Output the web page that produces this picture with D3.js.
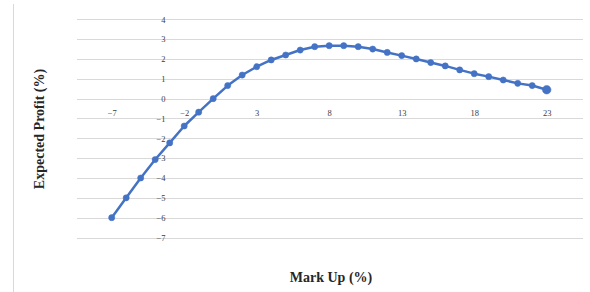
<!DOCTYPE html>
<html>
<head>
<meta charset="utf-8">
<script src="https://cdn.jsdelivr.net/npm/d3@7"></script>
<style>
  html, body { margin: 0; padding: 0; background: #fff; }
  svg { display: block; }
</style>
</head>
<body>
<svg id="chart" width="590" height="292"></svg>
<script>
// ---- data ----
const markUp = [-7,-6,-5,-4,-3,-2,-1,0,1,2,3,4,5,6,7,8,9,10,11,12,13,14,15,16,17,18,19,20,21,22,23];
const expectedProfit = [-6,-5,-4,-3.07,-2.23,-1.38,-0.68,0,0.66,1.19,1.61,1.95,2.2,2.45,2.62,2.67,2.67,2.62,2.5,2.33,2.17,2.0,1.82,1.65,1.45,1.26,1.11,0.94,0.77,0.66,0.45];
const xTickValues = [-7,-2,3,8,13,18,23];
const yTickValues = [4,3,2,1,0,-1,-2,-3,-4,-5,-6,-7];
const xTitle = "Mark Up (%)";
const yTitle = "Expected Profit (%)";

const svg = d3.select("#chart");
const x = d3.scaleLinear().domain([-7, 23]).range([111.7, 546.7]);
const y = d3.scaleLinear().domain([-7, 4]).range([237.5, 19.3]);
const gridLeft = 77, gridRight = 583;
const font = "'Liberation Serif', 'Times New Roman', serif";

// chart border (left edge visible)
svg.append("line").attr("x1", 13.5).attr("x2", 13.5).attr("y1", 4).attr("y2", 292)
  .attr("stroke", "#d9d9d9").attr("stroke-width", 1);

// gridlines
svg.append("g").selectAll("line").data(yTickValues).join("line")
  .attr("x1", gridLeft).attr("x2", gridRight)
  .attr("y1", d => Math.round(y(d)) + 0.5).attr("y2", d => Math.round(y(d)) + 0.5)
  .attr("stroke", "#d9d9d9").attr("stroke-width", 1);

// y axis labels (axis crosses between categories)
const yAxis = d3.axisLeft(y).tickValues(yTickValues).tickSize(0).tickPadding(0)
  .tickFormat(d3.format("d"));
const gy = svg.append("g").attr("transform", `translate(${x(-3.5) + 3},0)`).call(yAxis);
gy.select(".domain").remove();
gy.selectAll("text").attr("font-family", font).attr("font-size", 8.5).attr("fill", "#404040");

// x axis labels
const xAxis = d3.axisBottom(x).tickValues(xTickValues).tickSize(0).tickPadding(11)
  .tickFormat(d3.format("d"));
const gx = svg.append("g").attr("transform", `translate(0,${y(0)})`).call(xAxis);
gx.select(".domain").remove();
gx.selectAll("text").attr("font-family", font).attr("font-size", 8.5).attr("fill", "#404040");

// line
const pts = markUp.map((m, i) => [m, expectedProfit[i]]);
svg.append("path").datum(pts)
  .attr("fill", "none").attr("stroke", "#4472C4").attr("stroke-width", 2.5)
  .attr("stroke-linejoin", "round")
  .attr("d", d3.line().x(d => x(d[0])).y(d => y(d[1])));

// markers
svg.append("g").selectAll("circle").data(pts).join("circle")
  .attr("cx", d => x(d[0])).attr("cy", d => y(d[1]))
  .attr("r", (d, i) => i === pts.length - 1 ? 4.3 : 3.1)
  .attr("fill", "#4472C4").attr("stroke", "#4472C4").attr("stroke-width", 0.5);

// titles
svg.append("text").attr("x", 331).attr("y", 282).attr("text-anchor", "middle")
  .attr("font-family", font).attr("font-size", 14).attr("font-weight", "bold")
  .attr("fill", "#262626").text(xTitle);
svg.append("text").attr("transform", "translate(44,129) rotate(-90)").attr("text-anchor", "middle")
  .attr("font-family", font).attr("font-size", 14).attr("font-weight", "bold")
  .attr("fill", "#262626").text(yTitle);
</script>
</body>
</html>
